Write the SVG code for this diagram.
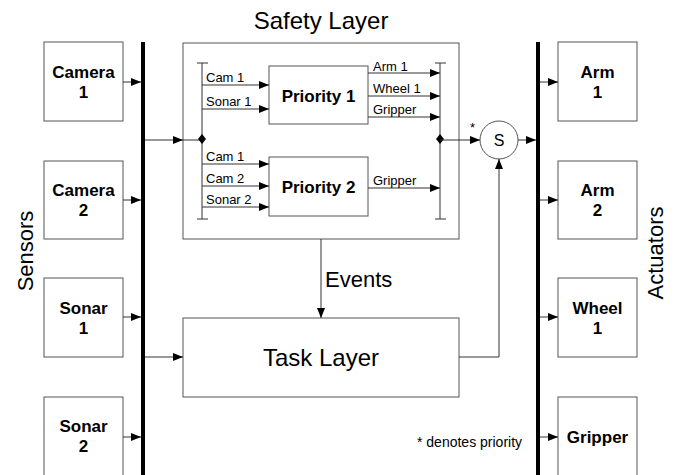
<svg xmlns="http://www.w3.org/2000/svg" width="678" height="475" viewBox="0 0 678 475">
<style>
.box{fill:#fff;stroke:#555;stroke-width:1}
.ln{stroke:#333;stroke-width:1;fill:none}
.bar{stroke:#000;stroke-width:4}
.lbl{font-family:"Liberation Sans",Arial,sans-serif;font-weight:bold;font-size:17px;text-anchor:middle;fill:#000}
.sm{font-family:"Liberation Sans",Arial,sans-serif;font-size:13px;fill:#000}
.big{font-family:"Liberation Sans",Arial,sans-serif;fill:#000}
</style>
<defs>
<marker id="ar" markerWidth="10" markerHeight="8" refX="10" refY="4" orient="auto" markerUnits="userSpaceOnUse">
<path d="M0,0 L10,4 L0,8 Z" fill="#000"/>
</marker>
</defs>
<rect width="678" height="475" fill="#fff"/>
<text class="big" x="321" y="29" font-size="24" text-anchor="middle">Safety Layer</text>
<text class="big" x="0" y="0" font-size="22" text-anchor="middle" transform="translate(33,251) rotate(-90)">Sensors</text>
<text class="big" x="0" y="0" font-size="22" text-anchor="middle" transform="translate(663,253) rotate(-90)">Actuators</text>

<g id="camera1"><rect class="box" x="44" y="42" width="79" height="79"/><text class="lbl" x="83.5" y="78">Camera</text><text class="lbl" x="83.5" y="98">1</text></g>
<g id="camera2"><rect class="box" x="44" y="161" width="79" height="78"/><text class="lbl" x="83.5" y="196">Camera</text><text class="lbl" x="83.5" y="216">2</text></g>
<g id="sonar1"><rect class="box" x="44" y="278" width="79" height="79"/><text class="lbl" x="83.5" y="314">Sonar</text><text class="lbl" x="83.5" y="334">1</text></g>
<g id="sonar2"><rect class="box" x="44" y="397" width="79" height="90"/><text class="lbl" x="83.5" y="432">Sonar</text><text class="lbl" x="83.5" y="452">2</text></g>

<g id="arm1"><rect class="box" x="558" y="42" width="79" height="79"/><text class="lbl" x="597.5" y="78">Arm</text><text class="lbl" x="597.5" y="98">1</text></g>
<g id="arm2"><rect class="box" x="558" y="161" width="79" height="78"/><text class="lbl" x="597.5" y="196">Arm</text><text class="lbl" x="597.5" y="216">2</text></g>
<g id="wheel1"><rect class="box" x="558" y="278" width="79" height="79"/><text class="lbl" x="597.5" y="314">Wheel</text><text class="lbl" x="597.5" y="334">1</text></g>
<g id="gripper"><rect class="box" x="558" y="397" width="79" height="90"/><text class="lbl" x="597.5" y="443">Gripper</text></g>

<g id="safety"><rect class="box" x="183" y="43" width="276" height="196"/></g>
<g id="priority1"><rect class="box" x="269" y="66" width="99" height="58"/><text class="lbl" x="318.5" y="101.5" font-size="17.5">Priority 1</text></g>
<g id="priority2"><rect class="box" x="269" y="157" width="99" height="59"/><text class="lbl" x="318.5" y="192.5" font-size="17.5">Priority 2</text></g>
<g id="task"><rect class="box" x="183" y="318" width="276" height="79"/><text class="big" x="321" y="366" font-size="24" text-anchor="middle">Task Layer</text></g>
<g id="switch"><circle cx="499" cy="140" r="19" fill="#fff" stroke="#555"/><text class="big" x="499" y="146" font-size="16" text-anchor="middle">S</text></g>

<g id="connectors">
<line class="bar" x1="143" y1="42" x2="143" y2="475"/>
<line class="bar" x1="538" y1="42" x2="538" y2="475"/>
<line class="ln" x1="123" y1="82" x2="141" y2="82" marker-end="url(#ar)"/>
<line class="ln" x1="123" y1="200" x2="141" y2="200" marker-end="url(#ar)"/>
<line class="ln" x1="123" y1="317" x2="141" y2="317" marker-end="url(#ar)"/>
<line class="ln" x1="123" y1="437" x2="141" y2="437" marker-end="url(#ar)"/>
<line class="ln" x1="145" y1="140" x2="183" y2="140" marker-end="url(#ar)"/>
<line class="ln" x1="145" y1="357" x2="183" y2="357" marker-end="url(#ar)"/>
<line class="ln" x1="540" y1="82" x2="558" y2="82" marker-end="url(#ar)"/>
<line class="ln" x1="540" y1="200" x2="558" y2="200" marker-end="url(#ar)"/>
<line class="ln" x1="540" y1="317" x2="558" y2="317" marker-end="url(#ar)"/>
<line class="ln" x1="540" y1="437" x2="558" y2="437" marker-end="url(#ar)"/>
<line class="ln" x1="183" y1="140" x2="202" y2="140"/>
<line class="ln" x1="202" y1="63" x2="202" y2="219"/>
<line class="ln" x1="197" y1="63" x2="208" y2="63"/>
<line class="ln" x1="197" y1="219" x2="208" y2="219"/>
<path d="M202,134 L206,139 L202,144 L198,139 Z" fill="#000"/>
<line class="ln" x1="202" y1="85" x2="269" y2="85" marker-end="url(#ar)"/>
<line class="ln" x1="202" y1="109" x2="269" y2="109" marker-end="url(#ar)"/>
<line class="ln" x1="202" y1="164" x2="269" y2="164" marker-end="url(#ar)"/>
<line class="ln" x1="202" y1="186" x2="269" y2="186" marker-end="url(#ar)"/>
<line class="ln" x1="202" y1="207" x2="269" y2="207" marker-end="url(#ar)"/>
<text class="sm" x="206" y="82">Cam 1</text>
<text class="sm" x="206" y="106">Sonar 1</text>
<text class="sm" x="206" y="161">Cam 1</text>
<text class="sm" x="206" y="183">Cam 2</text>
<text class="sm" x="206" y="204">Sonar 2</text>
<line class="ln" x1="440" y1="63" x2="440" y2="219"/>
<line class="ln" x1="435" y1="63" x2="446" y2="63"/>
<line class="ln" x1="435" y1="219" x2="446" y2="219"/>
<path d="M440,134 L444,139 L440,144 L436,139 Z" fill="#000"/>
<line class="ln" x1="368" y1="73" x2="440" y2="73" marker-end="url(#ar)"/>
<line class="ln" x1="368" y1="96" x2="440" y2="96" marker-end="url(#ar)"/>
<line class="ln" x1="368" y1="117" x2="440" y2="117" marker-end="url(#ar)"/>
<line class="ln" x1="368" y1="188" x2="440" y2="188" marker-end="url(#ar)"/>
<text class="sm" x="373" y="70.5">Arm 1</text>
<text class="sm" x="373" y="93">Wheel 1</text>
<text class="sm" x="373" y="114">Gripper</text>
<text class="sm" x="373" y="185">Gripper</text>
<line class="ln" x1="440" y1="140" x2="480" y2="140" marker-end="url(#ar)"/>
<text class="sm" x="470" y="132">*</text>
<line class="ln" x1="518" y1="140" x2="536" y2="140" marker-end="url(#ar)"/>
<line class="ln" x1="321" y1="239" x2="321" y2="318" marker-end="url(#ar)"/>
<text class="big" x="325" y="287" font-size="22">Events</text>
<polyline class="ln" points="459,357 499,357 499,159" marker-end="url(#ar)"/>
</g>
<text class="big" x="417" y="447" font-size="14">* denotes priority</text>
</svg>
